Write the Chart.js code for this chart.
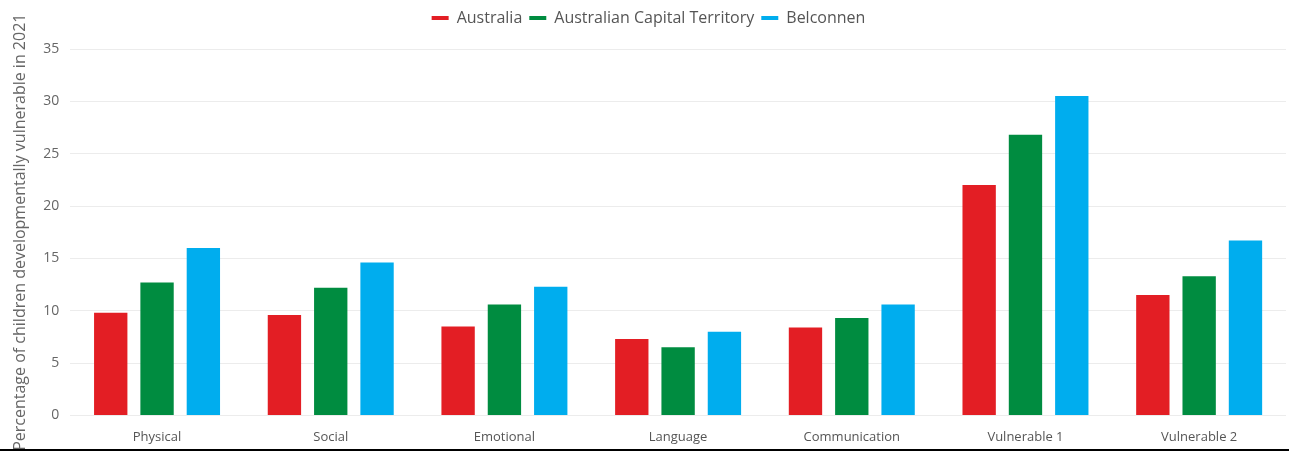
<!DOCTYPE html>
<html>
<head>
<meta charset="utf-8">
<script src="https://cdn.jsdelivr.net/npm/chart.js@4/dist/chart.umd.min.js"></script>
<style>
  html, body { margin: 0; padding: 0; background: #fff; }
  #wrap { width: 1289px; height: 451px; position: relative; overflow: hidden; }
  #line { position: absolute; left: 0; top: 449px; width: 1289px; height: 2px; background: #000; }
  canvas { display: block; }
</style>
</head>
<body>
<div id="wrap"><canvas id="c" width="1289" height="451"></canvas><div id="line"></div></div>
<script>
const categories = ["Physical", "Social", "Emotional", "Language", "Communication", "Vulnerable 1", "Vulnerable 2"];
const seriesNames = ["Australia", "Australian Capital Territory", "Belconnen"];
const australia = [9.8, 9.6, 8.5, 7.3, 8.4, 22.0, 11.5];
const act = [12.7, 12.2, 10.6, 6.5, 9.3, 26.8, 13.3];
const belconnen = [16.0, 14.6, 12.3, 8.0, 10.6, 30.5, 16.7];
const colors = ["#E31E24", "#008C40", "#00ADEE"];
const yTitle = "Percentage of children developmentally vulnerable in 2021";

const values = [australia, act, belconnen];
const datasets = seriesNames.map((name, i) => ({
  label: name,
  data: values[i],
  backgroundColor: colors[i],
  borderColor: colors[i],
  borderWidth: 0,
  barPercentage: 0.72,
  categoryPercentage: 0.8
}));

const legendSpacer = {
  id: "legendSpacer",
  beforeInit(chart) {
    const origFit = chart.legend.fit;
    chart.legend.fit = function () {
      origFit.bind(chart.legend)();
      this.height += 13;
    };
  }
};

new Chart(document.getElementById("c"), {
  type: "bar",
  data: { labels: categories, datasets },
  plugins: [legendSpacer],
  options: {
    responsive: false,
    animation: false,
    layout: { padding: { left: 11, right: 3, top: 3, bottom: 0 } },
    plugins: {
      legend: {
        position: "top",
        labels: {
          boxWidth: 17,
          boxHeight: 4,
          padding: 7,
          color: "#555",
          font: { family: "'Open Sans'", size: 16 }
        }
      },
      tooltip: { enabled: false }
    },
    scales: {
      x: {
        grid: { display: false },
        border: { display: false },
        ticks: { color: "#555", font: { family: "'Open Sans'", size: 13 }, padding: 6 }
      },
      y: {
        min: 0,
        max: 35,
        ticks: { stepSize: 5, color: "#666", font: { family: "'Open Sans'", size: 14 }, padding: 11 },
        grid: { color: "#ececec", drawTicks: false },
        border: { display: false },
        title: {
          display: true,
          text: yTitle,
          color: "#666",
          font: { family: "'Open Sans'", size: 16 },
          padding: { top: 0, bottom: 2 }
        }
      }
    }
  }
});
</script>
</body>
</html>
